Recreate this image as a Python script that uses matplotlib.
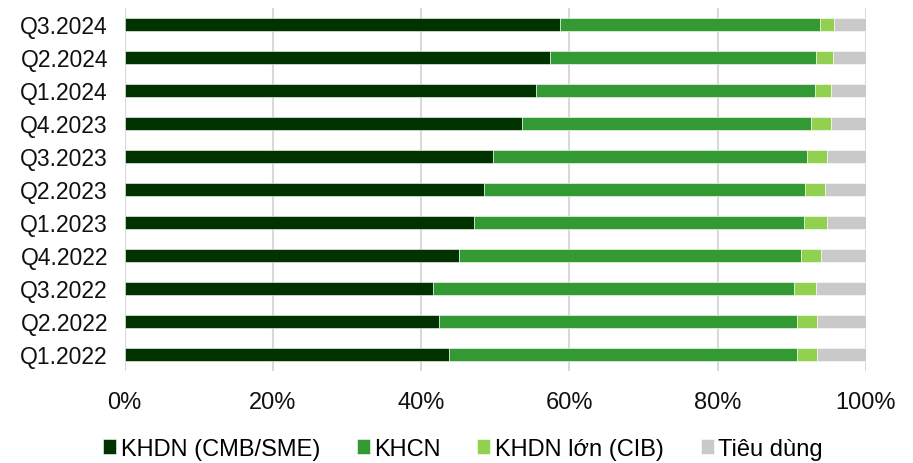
import matplotlib.pyplot as plt
import numpy as np

plt.rcParams['font.family'] = ['Liberation Sans', 'DejaVu Sans']

quarters = ["Q1.2022", "Q2.2022", "Q3.2022", "Q4.2022",
            "Q1.2023", "Q2.2023", "Q3.2023", "Q4.2023",
            "Q1.2024", "Q2.2024", "Q3.2024"]

# share of loan book by segment, %
khdn_sme = [43.8, 42.4, 41.6, 45.1, 47.1, 48.5, 49.7, 53.6, 55.5, 57.4, 58.7]
khcn = [46.9, 48.3, 48.7, 46.2, 44.5, 43.3, 42.3, 39.0, 37.6, 35.9, 35.1]
khdn_cib = [2.7, 2.7, 2.9, 2.6, 3.1, 2.7, 2.8, 2.7, 2.2, 2.3, 1.9]
tieu_dung = [6.6, 6.6, 6.8, 6.1, 5.3, 5.5, 5.2, 4.7, 4.7, 4.4, 4.3]

series = [
    ("KHDN (CMB/SME)", khdn_sme, "#003300"),
    ("KHCN", khcn, "#339933"),
    ("KHDN lớn (CIB)", khdn_cib, "#92D050"),
    ("Tiêu dùng", tieu_dung, "#C9C9C9"),
]

fig = plt.figure(figsize=(9.13, 4.64), dpi=100)
ax = fig.add_axes([0.1365, 0.199, 0.8120, 0.782])

y = np.arange(len(quarters))
left = np.zeros(len(quarters))
for name, vals, color in series:
    vals = np.array(vals, dtype=float)
    ax.barh(y, vals, left=left, height=0.4, color=color, label=name,
            edgecolor="white", linewidth=0.4)
    left += vals

ax.set_xlim(0, 100)
ax.set_ylim(-0.5, len(quarters) - 0.5)
ax.set_yticks(y)
ax.set_yticklabels(quarters, fontsize=16.5, color="#111111")
ax.set_xticks(np.arange(0, 101, 20))
ax.set_xticklabels([f"{v}%" for v in range(0, 101, 20)], fontsize=17,
                   color="#111111")
ax.tick_params(axis="y", length=0, pad=12)
ax.tick_params(axis="x", length=0, pad=15)
ax.xaxis.grid(True, color="#D9D9D9", linewidth=1.5)
ax.set_axisbelow(True)
for s in ax.spines.values():
    s.set_visible(False)

handles, labels = ax.get_legend_handles_labels()
fig.legend(handles, labels, loc="center", bbox_to_anchor=(0.507, 0.03),
           ncol=4, frameon=False, fontsize=17, handlelength=0.55,
           handleheight=0.6, handletextpad=0.2, columnspacing=1.55,
           borderaxespad=0, borderpad=0)

fig.savefig("out.png", dpi=100)
